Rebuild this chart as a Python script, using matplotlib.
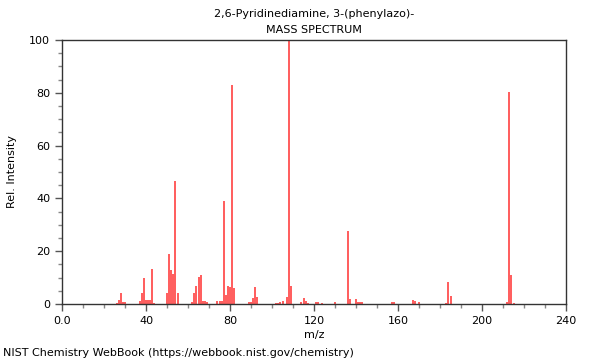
import matplotlib
matplotlib.use("Agg")
import matplotlib.pyplot as plt
from matplotlib.ticker import MultipleLocator

title_line1 = "2,6-Pyridinediamine, 3-(phenylazo)-"
title_line2 = "MASS SPECTRUM"
x_label = "m/z"
y_label = "Rel. Intensity"
footer = "NIST Chemistry WebBook (https://webbook.nist.gov/chemistry)"

mz = [26, 27, 28, 29, 30, 37, 38, 39, 40, 41, 42, 43, 44,
      50, 51, 52, 53, 54, 55, 62, 63, 64, 65, 66, 67, 68, 69,
      74, 75, 76, 77, 78, 79, 80, 81, 82, 89, 90, 91, 92, 93,
      102, 103, 104, 105, 107, 108, 109, 114, 115, 116, 117, 121, 122, 124,
      130, 136, 137, 140, 141, 142, 143, 157, 158, 167, 168, 170,
      183, 184, 185, 212, 213, 214, 215]
intensity = [0.5, 1.5, 4.0, 0.8, 0.8, 1.0, 4.0, 9.8, 1.5, 1.5, 1.5, 13.3, 0.5,
             4.0, 18.9, 13.0, 11.4, 46.7, 4.0, 0.8, 4.3, 6.9, 10.4, 11.0, 1.3, 1.3, 0.8,
             1.3, 1.1, 1.3, 39.1, 3.5, 6.9, 6.6, 83.0, 6.1, 0.6, 0.9, 2.3, 6.3, 2.8,
             0.4, 0.4, 0.8, 1.2, 2.8, 100.0, 7.0, 0.9, 2.3, 1.0, 0.5, 0.7, 0.7, 0.5,
             0.8, 27.7, 1.8, 1.9, 0.9, 0.7, 0.7, 0.9, 0.6, 1.5, 1.0, 0.6,
             0.5, 8.4, 3.1, 0.8, 80.3, 11.0, 0.5]

x_range = (0, 240)
y_range = (0, 100)

fig = plt.figure(figsize=(6, 3.6), dpi=100)
ax = fig.add_axes([62/600, 56/360, 504/600, 264/360])

ax.vlines(mz, 0, intensity, colors="#ff3030", linewidth=1.1)

ax.set_xlim(*x_range)
ax.set_ylim(*y_range)
ax.xaxis.set_major_locator(MultipleLocator(40))
ax.xaxis.set_minor_locator(MultipleLocator(10))
ax.yaxis.set_major_locator(MultipleLocator(20))
ax.yaxis.set_minor_locator(MultipleLocator(5))
ax.xaxis.set_major_formatter(matplotlib.ticker.FuncFormatter(
    lambda v, p: f"{v:.1f}" if v == 0 else f"{int(v)}"))

for s in ax.spines.values():
    s.set_color("#333333")
    s.set_linewidth(1.0)
ax.tick_params(axis="both", which="major", direction="out", length=5,
               width=1, color="#555555", labelsize=8)
ax.tick_params(axis="both", which="minor", direction="out", length=3,
               width=1, color="#888888")

ax.set_xlabel(x_label, fontsize=8, labelpad=3)
ax.set_ylabel(y_label, fontsize=8, labelpad=9)

fig.text(314/600, 1 - 14/360, title_line1, ha="center", va="center", fontsize=8)
fig.text(314/600, 1 - 30/360, title_line2, ha="center", va="center", fontsize=8)
fig.text(3/600, 1 - 353/360, footer, ha="left", va="center", fontsize=8)

fig.savefig("out.png", dpi=100)
